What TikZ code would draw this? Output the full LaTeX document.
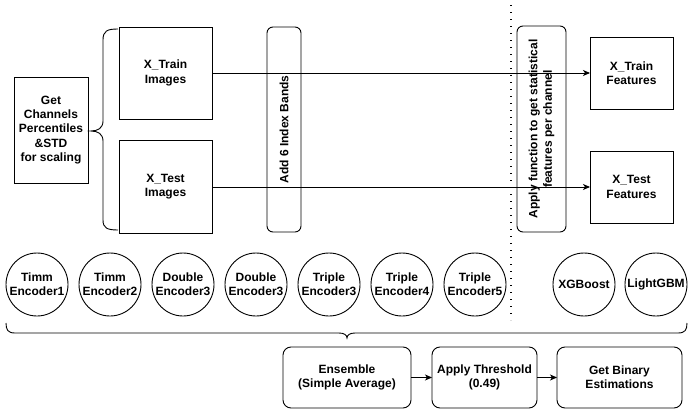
\documentclass[tikz,border=0pt]{standalone}
\usepackage{fontspec}
\setmainfont{Liberation Sans}
\usetikzlibrary{arrows.meta,shapes.geometric}
\begin{document}
\begin{tikzpicture}[x=1pt,y=-1pt,
  every node/.style={font=\bfseries\fontsize{12}{14.4}\selectfont, align=center, inner sep=0pt, outer sep=0pt},
  box/.style={draw, line width=0.9pt},
  rbox/.style={draw, line width=0.9pt, rounded corners=8pt},
  vbox/.style={draw, line width=0.9pt, rounded corners=6pt, rotate=90},
  model/.style={draw, line width=0.9pt, ellipse, minimum width=62pt, minimum height=63pt, label={center:#1}},
  conn/.style={line width=0.9pt},
  arr/.style={line width=0.9pt, -{Stealth[length=7pt,width=6pt,inset=2pt]}},
  brc/.style={line width=0.9pt},
  sep/.style={line width=1.4pt, dash pattern=on 1.4pt off 5.6pt}
]
\useasboundingbox (0,0) rectangle (694,415);

% top row
\node[box, minimum width=74pt, minimum height=106pt] (getch) at (51,130) {Get\\Channels\\Percentiles\\\&STD\\for scaling};
\node[box, minimum width=93pt, minimum height=92pt] (xtrimg) at (165.5,73) {X\_Train\\Images};
\node[box, minimum width=93pt, minimum height=93pt] (xteimg) at (165.5,186.5) {X\_Test\\Images};
\node[vbox, minimum width=205pt, minimum height=34pt] (add6) at (284,129.5) {Add 6 Index Bands};
\node[vbox, minimum width=206pt, minimum height=49pt] (apply) at (541.5,129) {Apply function to get statistical\\features per channel};
\node[box, minimum width=83pt, minimum height=72pt] (xtrfeat) at (631.5,73) {X\_Train\\Features};
\node[box, minimum width=83pt, minimum height=72pt] (xtefeat) at (631.5,187) {X\_Test\\Features};

% connectors
\draw[conn] (xtrimg.east) -- (xtrimg.east -| add6.south);
\draw[conn] (xtrimg.east -| add6.north) -- (xtrimg.east -| apply.south);
\draw[conn] (0,187 -| xteimg.east) -- (0,187 -| add6.south);
\draw[conn] (0,187 -| add6.north) -- (0,187 -| apply.south);
\draw[arr] (xtrfeat.west -| apply.north) -- (xtrfeat.west);
\draw[arr] (xtefeat.west -| apply.north) -- (xtefeat.west);

% left brace
\draw[brc] (118,29) .. controls (107,29) and (103,31) .. (103,40) -- (103,121)
  .. controls (103,128) and (98,131) .. (91,131)
  .. controls (98,131) and (103,134) .. (103,141) -- (103,220)
  .. controls (103,228) and (107,230) .. (118,230);

% separator
\coordinate (septop) at (511,5);
\coordinate (sepbot) at (511,320);
\draw[sep] (septop) -- (sepbot);

% models
\node[model={Timm\\Encoder1}] (m1) at (37,284.5) {};
\node[model={Timm\\Encoder2}] (m2) at (110,284.5) {};
\node[model={Double\\Encoder3}] (m3) at (183,284.5) {};
\node[model={Double\\Encoder3}] (m4) at (256,284.5) {};
\node[model={Triple\\Encoder3}] (m5) at (329,284.5) {};
\node[model={Triple\\Encoder4}] (m6) at (402,284.5) {};
\node[model={Triple\\Encoder5}] (m7) at (475,284.5) {};
\node[model={XGBoost}] (xgb) at (584,284.5) {};
\node[model={LightGBM}] (lgbm) at (656,284.5) {};

% bottom brace
\draw[brc] (6,323) .. controls (6,330) and (8,333) .. (15,333) -- (339,333)
  .. controls (344,333) and (347,335) .. (347,338)
  .. controls (347,335) and (350,333) .. (355,333) -- (678,333)
  .. controls (685,333) and (687,330) .. (687,323);

% bottom row
\node[rbox, minimum width=128pt, minimum height=61pt] (ens) at (347,377.5) {Ensemble\\(Simple Average)};
\node[rbox, minimum width=105pt, minimum height=61pt] (thr) at (484.5,377.5) {Apply Threshold\\(0.49)};
\node[rbox, minimum width=125pt, minimum height=61pt] (bin) at (619.5,377.5) {Get Binary\\Estimations};
\draw[arr] (ens.east) -- (thr.west);
\draw[arr] (thr.east) -- (bin.west);
\end{tikzpicture}
\end{document}
